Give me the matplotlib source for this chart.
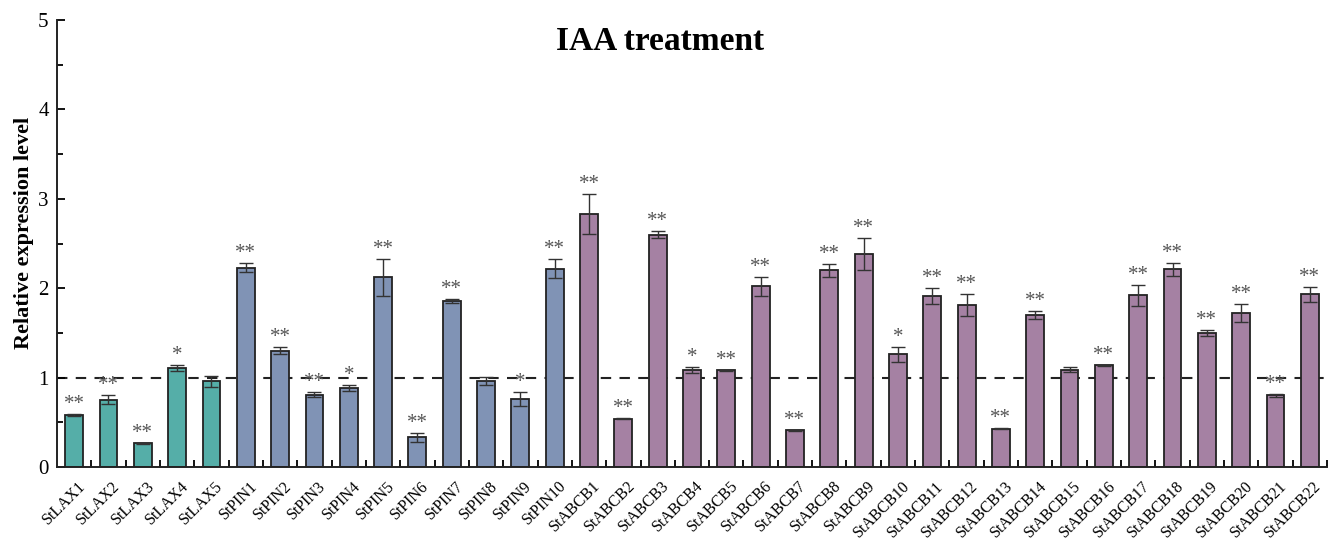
import matplotlib
matplotlib.use("Agg")
import matplotlib.pyplot as plt
from matplotlib.ticker import MultipleLocator, FixedLocator
import numpy as np

plt.rcParams['font.family'] = ['Liberation Serif', 'DejaVu Serif']

# Gene families
lax_genes = ["StLAX1", "StLAX2", "StLAX3", "StLAX4", "StLAX5"]
pin_genes = ["StPIN1", "StPIN2", "StPIN3", "StPIN4", "StPIN5", "StPIN6", "StPIN7",
             "StPIN8", "StPIN9", "StPIN10"]
abcb_genes = ["StABCB%d" % i for i in range(1, 23)]

# Relative expression (mean) and standard error
lax_mean = [0.58, 0.755, 0.265, 1.11, 0.96]
lax_err = [0.01, 0.045, 0.005, 0.035, 0.06]
lax_sig = ["**", "**", "**", "*", ""]

pin_mean = [2.23, 1.30, 0.81, 0.885, 2.12, 0.33, 1.86, 0.965, 0.76, 2.22]
pin_err = [0.05, 0.04, 0.03, 0.03, 0.21, 0.045, 0.02, 0.045, 0.08, 0.11]
pin_sig = ["**", "**", "**", "*", "**", "**", "**", "", "*", "**"]

abcb_mean = [2.83, 0.54, 2.60, 1.085, 1.08, 2.02, 0.41, 2.20, 2.38, 1.26, 1.91,
             1.81, 0.43, 1.70, 1.09, 1.14, 1.92, 2.21, 1.50, 1.72, 0.80, 1.93]
abcb_err = [0.22, 0.005, 0.04, 0.035, 0.01, 0.11, 0.005, 0.075, 0.18, 0.08, 0.09,
            0.12, 0.005, 0.045, 0.03, 0.005, 0.12, 0.07, 0.035, 0.10, 0.015, 0.08]
abcb_sig = ["**", "**", "**", "*", "**", "**", "**", "**", "**", "*", "**",
            "**", "**", "**", "", "**", "**", "**", "**", "**", "**", "**"]

family_colors = ["#55aea8", "#8093b5", "#a581a3"]

families = [
    (lax_genes, lax_mean, lax_err, lax_sig, family_colors[0]),
    (pin_genes, pin_mean, pin_err, pin_sig, family_colors[1]),
    (abcb_genes, abcb_mean, abcb_err, abcb_sig, family_colors[2]),
]

W, H = 1331, 541
fig = plt.figure(figsize=(W / 100, H / 100), dpi=100)
ax = fig.add_axes([57 / W, (H - 467) / H, (1327 - 57) / W, (467 - 20) / H])

labels = []
start = 0
for genes, mean, err, sig, color in families:
    x = np.arange(start, start + len(genes))
    ax.bar(x, mean, width=0.52, color=color, edgecolor="#222222", linewidth=1.3,
           zorder=2)
    ax.errorbar(x, mean, yerr=err, fmt="none", ecolor="#333333", elinewidth=1.0,
                capsize=5, capthick=1.0, zorder=3)
    for xi, m, e, s in zip(x, mean, err, sig):
        if s:
            ax.text(xi, m + e, s, ha="center", va="bottom", fontsize=15,
                    color="#555555", zorder=4)
    labels.extend(genes)
    start += len(genes)

n = len(labels)
ax.axhline(1.0, color="#222222", linestyle=(0, (5, 4)), linewidth=1.5, zorder=1)

ax.set_xlim(-0.5, n - 0.5)
ax.set_ylim(0, 5)

ax.set_xticks(np.arange(n) + 0.1)
ax.set_xticklabels(labels, rotation=45, ha="right", rotation_mode="anchor",
                   fontsize=11.5)
ax.tick_params(axis="x", which="major", length=0, pad=8)
ax.xaxis.set_minor_locator(FixedLocator(np.arange(-0.5, n, 1.0)[1:]))
ax.tick_params(axis="x", which="minor", direction="in", length=5, width=1.3)

ax.yaxis.set_major_locator(MultipleLocator(1))
ax.yaxis.set_minor_locator(MultipleLocator(0.5))
ax.tick_params(axis="y", which="major", direction="in", length=6, width=1.3,
               labelsize=15, pad=6)
ax.tick_params(axis="y", which="minor", direction="in", length=4, width=1.3)

ax.set_ylabel("Relative expression level", fontsize=16, fontweight="bold")
ax.yaxis.set_label_coords(-0.018, 0.523)

for side in ("top", "right"):
    ax.spines[side].set_visible(False)
for side in ("left", "bottom"):
    ax.spines[side].set_linewidth(1.4)
    ax.spines[side].set_color("#222222")

fig.text(660 / W, 1 - 42 / H, "IAA treatment", ha="center", va="center",
         fontsize=24, fontweight="bold")

fig.savefig("out.png", dpi=100)
